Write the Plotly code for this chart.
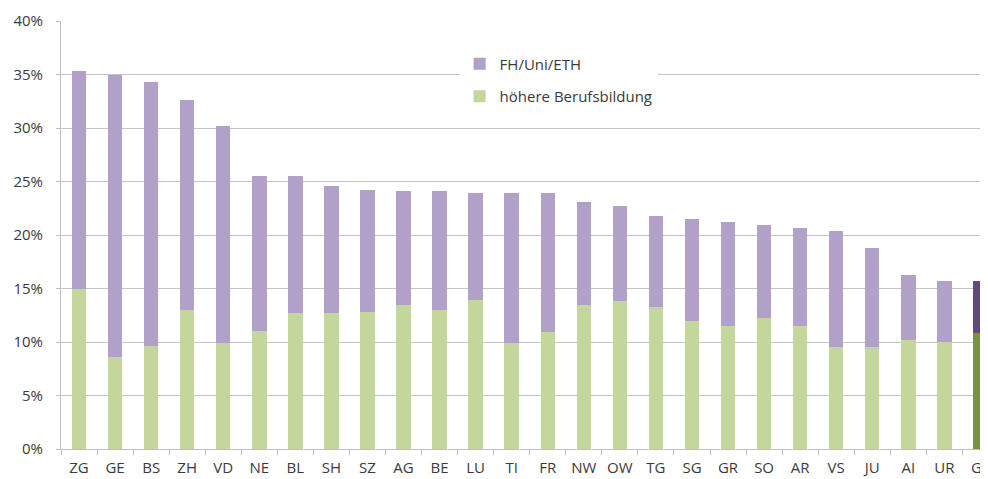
import plotly.graph_objects as go

cantons = ["ZG", "GE", "BS", "ZH", "VD", "NE", "BL", "SH", "SZ", "AG", "BE", "LU", "TI",
           "FR", "NW", "OW", "TG", "SG", "GR", "SO", "AR", "VS", "JU", "AI", "UR", "GL"]
hoehere_berufsbildung = [15.0, 8.6, 9.6, 13.0, 9.9, 11.0, 12.7, 12.7, 12.8, 13.5, 13.0, 13.9, 9.9,
                         10.9, 13.5, 13.8, 13.3, 12.0, 11.5, 12.2, 11.5, 9.5, 9.5, 10.2, 10.0, 10.8]
fh_uni_eth = [20.3, 26.4, 24.7, 19.6, 20.3, 14.5, 12.8, 11.9, 11.4, 10.6, 11.1, 10.0, 14.0,
              13.0, 9.6, 8.9, 8.5, 9.5, 9.7, 8.7, 9.2, 10.9, 9.3, 6.1, 5.7, 4.9]
y_ticks = [0, 5, 10, 15, 20, 25, 30, 35, 40]
y_tick_labels = ["0%", "5%", "10%", "15%", "20%", "25%", "30%", "35%", "40%"]

GREEN, GREEN_DARK = "#c3d69b", "#77933c"
PURPLE, PURPLE_DARK = "#b1a0c7", "#604a7b"
highlight = "GL"

green_colors = [GREEN_DARK if c == highlight else GREEN for c in cantons]
purple_colors = [PURPLE_DARK if c == highlight else PURPLE for c in cantons]

fig = go.Figure()
fig.add_trace(go.Bar(x=cantons, y=hoehere_berufsbildung, name="höhere Berufsbildung",
                     marker=dict(color=green_colors, line=dict(width=0)),
                     legendgroup="g", legendrank=2))
fig.add_trace(go.Bar(x=cantons, y=fh_uni_eth, name="FH/Uni/ETH",
                     marker=dict(color=purple_colors, line=dict(width=0)),
                     legendgroup="p", legendrank=1))

font_family = "Open Sans, DejaVu Sans, sans-serif"
text_color = "#3a3a3a"

fig.update_layout(
    barmode="stack",
    bargap=0.6,
    width=980, height=471,
    margin=dict(l=53, r=0, t=13, b=30),
    paper_bgcolor="white",
    plot_bgcolor="white",
    font=dict(family=font_family, size=15, color=text_color),
    legend=dict(
        x=0.43, y=0.938, xanchor="left", yanchor="top",
        bgcolor="white",
        traceorder="grouped",
        tracegroupgap=10,
        font=dict(family=font_family, size=15, color=text_color),
        itemclick=False,
    ),
    xaxis=dict(
        range=[-0.5, 25.21],
        automargin=False,
        showgrid=False,
        showline=True, linecolor="#bfbfbf", linewidth=1,
        ticks="outside", tickson="boundaries", ticklen=5, tickcolor="#bfbfbf",
        ticklabelstandoff=5,
        ticklabeloverflow="allow",
        tickfont=dict(size=15, color=text_color),
        fixedrange=True,
    ),
    yaxis=dict(
        range=[0, 40],
        automargin=False,
        tickmode="array",
        tickvals=y_ticks,
        ticktext=y_tick_labels,
        showgrid=True, gridcolor="#c4c4c4", gridwidth=1.2,
        showline=True, linecolor="#bfbfbf", linewidth=1,
        ticks="outside", ticklen=4, tickcolor="#bfbfbf",
        ticklabelstandoff=10,
        tickfont=dict(size=15, color=text_color),
        zeroline=False,
        fixedrange=True,
    ),
)

fig.write_html("out.html")
